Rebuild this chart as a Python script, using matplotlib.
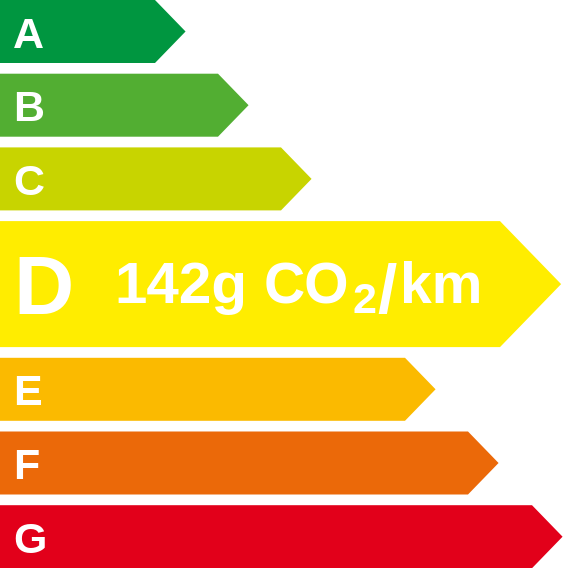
import matplotlib
matplotlib.use('Agg')
import matplotlib.pyplot as plt

# ---- data ----
classes = ['A', 'B', 'C', 'D', 'E', 'F', 'G']
bar_ends = [155, 218, 281, 500, 405, 468, 532]      # end of the straight part of each arrow
row_spans = [1, 1, 1, 2, 1, 1, 1]                   # D (the active class) is double height
colors = ['#009640', '#52AE32', '#C8D400', '#FFED00', '#FBBA00', '#EB6909', '#E2001A']
active_class = 'D'
value_num = '142g'
value_unit = 'CO'
value_sub = '2'
value_slash = '/'
value_tail = 'km'

# ---- layout ----
W, H = 564, 568
unit_h = 63.0
gap = 10.7
tip_ratio = 0.97
FONT = ['Liberation Sans']

fig = plt.figure(figsize=(W / 100, H / 100), dpi=100)
ax = fig.add_axes([0, 0, 1, 1])
ax.set_xlim(0, W)
ax.set_ylim(H, 0)
ax.axis('off')
fig.canvas.draw()
r = fig.canvas.get_renderer()
inv = ax.transData.inverted()


def put(x, yb, s, size):
    t = ax.text(x, yb, s, color='white', fontsize=size, fontweight='bold',
                family=FONT, ha='left', va='baseline')
    bb = t.get_window_extent(r)
    return inv.transform((bb.x1, 0))[0]


y = 0.0
for cls, end, span, col in zip(classes, bar_ends, row_spans, colors):
    h = unit_h * span
    top, bot = y, y + h
    cy = (top + bot) / 2
    tip = tip_ratio * h / 2
    xs = [0, end, end + tip, end, 0]
    ys = [top, top, cy, bot, bot]
    ax.fill(xs, ys, color=col, lw=0, antialiased=True)
    if cls == active_class:
        put(13, cy + 30, cls, 60)
        base = cy + 19
        x = put(114, base, value_num, 42)
        x = put(x + 17, base, value_unit, 41)
        x = put(x + 3, base + 10, value_sub, 31)
        x = put(x + 1, base + 10, value_slash, 50)
        put(x + 3, base, value_tail, 41)
    else:
        put(13, cy + 16, cls, 31)
    y = bot + gap

fig.savefig('out.png', dpi=100, facecolor='white')
